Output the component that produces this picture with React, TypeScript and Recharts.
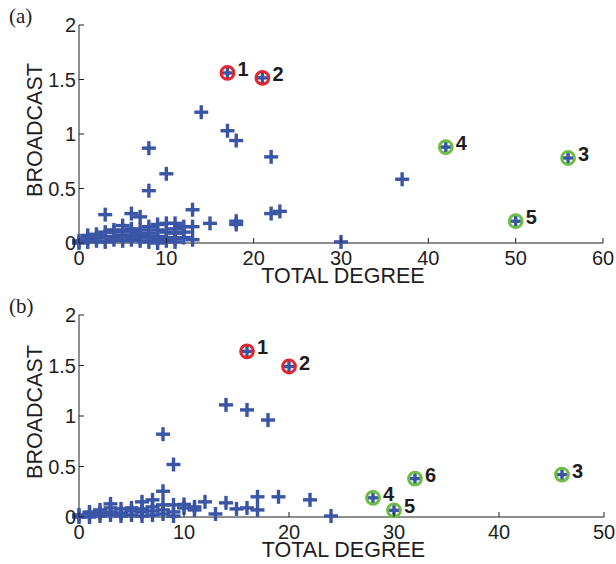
import { ScatterChart, Scatter, XAxis, YAxis, Label } from 'recharts';

const BLUE = '#3a54a6';
const RED = '#e3262c';
const GREEN = '#6bbd46';
const INK = '#1e1e1e';
const SANS = '"Liberation Sans", Arial, sans-serif';

// panel (a)
const A_X_TICKS = [0, 10, 20, 30, 40, 50, 60];
const Y_TICKS = [0, 0.5, 1, 1.5, 2];
const A_POINTS: [number, number][] = [
  [14, 1.2], [17, 1.03], [18, 0.94], [22, 0.79], [8, 0.87], [10, 0.635], [8, 0.48],
  [37, 0.585], [30, 0.01], [13, 0.305], [15, 0.18], [18, 0.2], [18, 0.17], [22, 0.27],
  [23, 0.29], [3, 0.26], [6, 0.27], [7, 0.24], [13, 0.15], [13, 0.03], [5, 0.16],
  [4, 0.1], [8, 0.15], [9, 0.17], [10, 0.18], [11, 0.18], [12, 0.15], [10, 0.1], [11, 0.09],
  [0, 0], [0, 0.02], [1, 0.01], [1, 0.04], [2, 0.02], [2, 0.05], [3, 0.01], [3, 0.06],
  [3, 0.1], [4, 0.03], [4, 0.06], [5, 0.02], [5, 0.07], [5, 0.11], [6, 0.03], [6, 0.06],
  [6, 0.1], [7, 0.02], [7, 0.05], [7, 0.08], [8, 0.01], [8, 0.05], [8, 0.09], [9, 0.03],
  [9, 0.06], [9, 0.12], [10, 0.02], [10, 0.05], [11, 0.04], [11, 0.13], [12, 0.05],
  [12, 0.1], [2, 0.08], [1, 0.07], [4, 0.12], [6, 0.13], [9, 0], [11, 0.01], [7, 0.12],
];
const A_RED = [
  { x: 17, y: 1.56, id: '1' },
  { x: 21, y: 1.515, id: '2' },
];
const A_GREEN = [
  { x: 56, y: 0.78, id: '3' },
  { x: 42, y: 0.88, id: '4' },
  { x: 50, y: 0.2, id: '5' },
];

// panel (b)
const B_X_TICKS = [0, 10, 20, 30, 40, 50];
const B_POINTS: [number, number][] = [
  [14, 1.11], [16, 1.06], [18, 0.96], [8, 0.82], [9, 0.52], [8, 0.255], [7, 0.17],
  [6, 0.15], [3, 0.13], [12, 0.15], [14, 0.14], [15, 0.08], [16, 0.09], [17, 0.2],
  [17, 0.07], [19, 0.2], [22, 0.17], [24, 0.01], [13, 0.03], [11, 0.07], [10, 0.125],
  [9, 0.12], [0, 0], [0, 0.02], [1, 0], [1, 0.03], [2, 0.01], [2, 0.04], [2, 0.07],
  [3, 0.02], [3, 0.05], [4, 0.01], [4, 0.04], [5, 0.02], [5, 0.06], [5, 0.09], [6, 0.01],
  [6, 0.05], [6, 0.08], [7, 0.02], [7, 0.06], [7, 0.1], [8, 0.03], [8, 0.07], [8, 0.12],
  [9, 0.01], [9, 0.05], [10, 0.09], [11, 0.1], [4, 0.08], [3, 0.09], [1, 0.05],
];
const B_RED = [
  { x: 16, y: 1.64, id: '1' },
  { x: 20, y: 1.49, id: '2' },
];
const B_GREEN = [
  { x: 46, y: 0.42, id: '3' },
  { x: 28, y: 0.19, id: '4' },
  { x: 30, y: 0.066, id: '5' },
  { x: 32, y: 0.38, id: '6' },
];

const toRows = (pts: [number, number][]) => pts.map(([x, y]) => ({ x, y }));

function Plus({ cx, cy }: any) {
  return (
    <g stroke={BLUE} strokeWidth={3.4}>
      <line x1={cx - 7} x2={cx + 7} y1={cy} y2={cy} />
      <line x1={cx} x2={cx} y1={cy - 7} y2={cy + 7} />
    </g>
  );
}

const ringed = (color: string) => (props: any) => (
  <g>
    <Plus {...props} />
    <circle cx={props.cx} cy={props.cy} r={6.4} fill="none" stroke={color} strokeWidth={3} />
    <text x={props.cx + 10} y={props.cy + 3} fontSize={20} fontWeight="bold" fontFamily={SANS} fill={INK}>
      {props.payload.id}
    </text>
  </g>
);

const BottomTick = ({ x, y, payload }: any) => (
  <g>
    <line x1={x} x2={x} y1={y} y2={y - 5} stroke={INK} />
    <text x={x} y={y + 22} textAnchor="middle" fontSize={20} fontFamily={SANS} fill={INK}>
      {String(payload.value)}
    </text>
  </g>
);
const TopTick = ({ x, y }: any) => <line x1={x} x2={x} y1={y} y2={y + 5} stroke={INK} />;
const LeftTick = ({ x, y, payload }: any) => (
  <g>
    <line x1={x} x2={x + 5} y1={y} y2={y} stroke={INK} />
    <text x={x - 3} y={y + 7} textAnchor="end" fontSize={20} fontFamily={SANS} fill={INK}>
      {String(payload.value)}
    </text>
  </g>
);
const RightTick = ({ x, y }: any) => <line x1={x} x2={x - 5} y1={y} y2={y} stroke={INK} />;

const XTitle = ({ viewBox }: any) => (
  <text x={viewBox.x + viewBox.width / 2 + 2} y={viewBox.y + 40} textAnchor="middle" fontSize={21.5} fontFamily={SANS} fill={INK}>
    TOTAL DEGREE
  </text>
);
const YTitle = ({ viewBox }: any) => {
  const bx = viewBox.x + 23;
  const cy = viewBox.y + viewBox.height / 2 - 4;
  return (
    <text x={bx} y={cy} transform={`rotate(-90, ${bx}, ${cy})`} textAnchor="middle" fontSize={21.5} fontFamily={SANS} fill={INK}>
      BROADCAST
    </text>
  );
};

function Panel({ points, red, green, xTicks, margin, height }: any) {
  const xMax = xTicks[xTicks.length - 1];
  return (
    <ScatterChart width={616} height={height} margin={margin}>
      <XAxis
        dataKey="x" type="number" domain={[0, xMax]} ticks={xTicks} height={30}
        stroke={INK} tickLine={false} tickSize={0} tickMargin={0} tick={<BottomTick />}
      >
        <Label content={<XTitle />} />
      </XAxis>
      <XAxis
        xAxisId="top" orientation="top" type="number" domain={[0, xMax]} ticks={xTicks} height={0}
        stroke={INK} tickLine={false} tickSize={0} tickMargin={0} tick={<TopTick />}
      />
      <YAxis
        dataKey="y" type="number" domain={[0, 2]} ticks={Y_TICKS} width={60}
        stroke={INK} tickLine={false} tickSize={0} tickMargin={0} tick={<LeftTick />}
      >
        <Label content={<YTitle />} />
      </YAxis>
      <YAxis
        yAxisId="right" orientation="right" type="number" domain={[0, 2]} ticks={Y_TICKS} width={0}
        stroke={INK} tickLine={false} tickSize={0} tickMargin={0} tick={<RightTick />}
      />
      <Scatter data={toRows(points)} shape={<Plus />} isAnimationActive={false} />
      <Scatter data={red} shape={ringed(RED)} isAnimationActive={false} />
      <Scatter data={green} shape={ringed(GREEN)} isAnimationActive={false} />
    </ScatterChart>
  );
}

const tag = { position: 'absolute' as const, left: 9, fontFamily: '"Liberation Serif", "DejaVu Serif", serif', fontSize: 21, lineHeight: 1, color: INK };

export default function App() {
  return (
    <div style={{ position: 'absolute', left: 0, top: 0, width: 616, height: 564, background: '#fff' }}>
      <div style={{ position: 'absolute', left: 0, top: 0 }}>
        <Panel points={A_POINTS} red={A_RED} green={A_GREEN} xTicks={A_X_TICKS} height={292}
          margin={{ top: 25, right: 13, left: 19, bottom: 19 }} />
      </div>
      <div style={{ position: 'absolute', left: 0, top: 292 }}>
        <Panel points={B_POINTS} red={B_RED} green={B_GREEN} xTicks={B_X_TICKS} height={272}
          margin={{ top: 23, right: 12, left: 19, bottom: 17 }} />
      </div>
      <div style={{ ...tag, top: 6 }}>(a)</div>
      <div style={{ ...tag, top: 296 }}>(b)</div>
    </div>
  );
}
